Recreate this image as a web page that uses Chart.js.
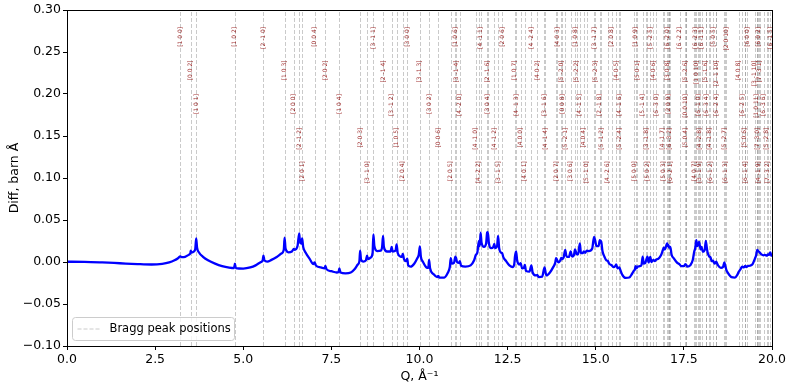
<!DOCTYPE html>
<html><head><meta charset="utf-8">
<script src="https://cdn.jsdelivr.net/npm/chart.js@4/dist/chart.umd.min.js"></script>
<style>html,body{margin:0;padding:0;background:#fff;}#wrap{width:793px;height:387px;}</style>
</head><body><div id="wrap"><canvas id="c" width="793" height="387"></canvas></div>
<script>
// Measured difference curve (Q in 1/Å, Diff in barn·Å)
const curveQ = [0,0.5,1.0,1.5,2.0,2.4,2.7,2.9,3.05,3.15,3.217,3.25,3.35,3.45,3.50,3.512,3.53,3.60,3.64,3.665,3.69,3.75,3.85,4.0,4.2,4.4,4.6,4.74,4.763,4.79,5.0,5.2,5.35,5.48,5.55,5.573,5.60,5.68,5.8,5.95,6.08,6.15,6.173,6.20,6.28,6.38,6.435,6.46,6.54,6.587,6.61,6.645,6.670,6.70,6.78,6.88,6.99,7.024,7.06,7.2,7.31,7.331,7.36,7.5,7.65,7.705,7.726,7.76,7.9,8.05,8.15,8.25,8.295,8.316,8.34,8.40,8.48,8.5125,8.54,8.62,8.67,8.692,8.72,8.80,8.90,8.94,8.966,8.99,9.08,9.18,9.209,9.24,9.32,9.351,9.38,9.46,9.50,9.526,9.56,9.62,9.652,9.68,9.75,9.85,9.93,9.98,10.011,10.04,10.1,10.2,10.25,10.271,10.30,10.4,10.50,10.536,10.56,10.7,10.80,10.86,10.886,10.92,10.98,11.017,11.036,11.07,11.12,11.145,11.18,11.3,11.45,11.55,11.60,11.64,11.686,11.71,11.733,11.76,11.83,11.89,11.919,11.938,11.97,12.03,12.09,12.121,12.15,12.2,12.229,12.26,12.32,12.346,12.38,12.45,12.55,12.65,12.69,12.707,12.741,12.77,12.83,12.87,12.91,12.96,12.989,13.02,13.12,13.174,13.21,13.30,13.34,13.38,13.48,13.546,13.5615,13.60,13.7,13.8,13.85,13.875,13.906,13.94,13.99,14.024,14.049,14.09,14.134,14.17,14.24,14.289,14.33,14.38,14.412,14.4575,14.5,14.549,14.58,14.63,14.662,14.70,14.744,14.8,14.9,14.952,14.981,15.02,15.08,15.114,15.157,15.19,15.25,15.30,15.338,15.38,15.452,15.50,15.55,15.58,15.62,15.671,15.685,15.75,15.85,15.95,16.03,16.087,16.11,16.129,16.16,16.183,16.25,16.30,16.332,16.36,16.40,16.426,16.466,16.50,16.546,16.58,16.633,16.68,16.718,16.78,16.85,16.902,16.928,16.96,17.025,17.045,17.064,17.083,17.115,17.15,17.22,17.30,17.383,17.42,17.50,17.541,17.55,17.556,17.6,17.68,17.75,17.797,17.821,17.853,17.88,17.914,17.933,17.951,17.98,18.0,18.04,18.09,18.122,18.134,18.17,18.219,18.255,18.29,18.327,18.37,18.417,18.424,18.47,18.55,18.61,18.649,18.672,18.702,18.75,18.85,18.95,19.02,19.052,19.1,19.156,19.2,19.23,19.242,19.27,19.304,19.36,19.45,19.515,19.55,19.571,19.583,19.605,19.621,19.649,19.7,19.761,19.8,19.851,19.884,19.92,19.95,19.98,20.0];
const curveDiff = [0.0003,0.0002,-0.0005,-0.0015,-0.0025,-0.003,-0.0022,-0.0005,0.002,0.0045,0.0068,0.0058,0.0062,0.0085,0.0105,0.0135,0.0112,0.0125,0.016,0.028,0.017,0.011,0.0065,0.002,-0.002,-0.005,-0.0068,-0.0074,-0.002,-0.0072,-0.0078,-0.0065,-0.004,-0.0005,0.002,0.0075,0.002,0.0005,0.0025,0.006,0.01,0.0145,0.029,0.016,0.0115,0.0125,0.0155,0.0145,0.019,0.034,0.024,0.022,0.028,0.018,0.0105,0.004,-0.0025,-0.0005,-0.004,-0.0065,-0.0075,-0.0045,-0.0085,-0.011,-0.0125,-0.012,-0.0075,-0.0125,-0.0135,-0.0125,-0.009,-0.003,0.001,0.0135,0.003,0.0005,0.002,0.0075,0.0035,0.0055,0.011,0.033,0.019,0.013,0.0135,0.018,0.031,0.018,0.0125,0.0125,0.018,0.0125,0.0135,0.021,0.011,0.0065,0.006,0.0095,0.0035,0.001,0.004,-0.004,-0.0055,-0.002,0.004,0.009,0.0185,0.006,0.0,-0.0065,-0.007,0.0025,-0.0075,-0.0145,-0.018,-0.0165,-0.0187,-0.0185,-0.013,-0.006,0.0045,-0.002,-0.001,0.0065,0.005,-0.0005,-0.001,0.001,-0.0045,-0.0055,-0.004,0.002,0.0085,0.011,0.025,0.019,0.035,0.023,0.018,0.022,0.035,0.0355,0.022,0.0165,0.0175,0.0215,0.0165,0.0185,0.031,0.0165,0.011,0.0105,0.0055,0.0015,-0.004,-0.006,-0.002,0.006,0.0125,0.002,-0.003,-0.0015,-0.0075,-0.007,-0.0035,-0.0105,-0.0115,-0.004,-0.0125,-0.016,-0.0155,-0.018,-0.0175,-0.0065,-0.009,-0.016,-0.0125,-0.0055,-0.001,0.0045,0.002,-0.0005,0.0015,0.005,0.0035,0.0055,0.0145,0.0065,0.006,0.0125,0.0065,0.008,0.015,0.0095,0.009,0.022,0.0105,0.0105,0.0125,0.011,0.0135,0.013,0.016,0.030,0.026,0.019,0.019,0.026,0.024,0.013,0.006,0.002,0.0015,-0.002,-0.004,-0.006,-0.005,-0.003,-0.0075,-0.0065,-0.008,-0.015,-0.019,-0.0185,-0.014,-0.01,-0.009,-0.005,-0.0075,-0.0055,-0.005,-0.003,0.0065,-0.002,-0.0015,0.0015,0.0065,-0.0005,0.006,0.0,0.0025,0.001,0.003,0.004,0.008,0.014,0.017,0.015,0.022,0.019,0.02,0.017,0.018,0.009,0.004,-0.0005,-0.003,-0.005,-0.005,-0.0025,-0.003,-0.003,-0.0055,-0.004,0.002,0.013,0.016,0.026,0.019,0.021,0.024,0.02,0.015,0.018,0.012,0.014,0.025,0.022,0.012,0.0065,0.0055,0.001,0.0015,-0.002,0.0005,0.0,-0.004,-0.007,-0.006,-0.0005,-0.004,-0.009,-0.013,-0.018,-0.0185,-0.015,-0.012,-0.009,-0.0055,-0.0065,-0.005,-0.0045,-0.006,-0.005,-0.0045,-0.0025,0.004,0.008,0.013,0.0145,0.013,0.0125,0.0115,0.009,0.008,0.0085,0.0075,0.009,0.0085,0.0115,0.008,0.0065];

// Bragg peak positions and their Miller indices
const braggQ = [3.217,3.512,3.665,4.763,5.573,6.173,6.435,6.587,6.670,7.024,7.331,7.726,8.316,8.513,8.692,8.966,9.209,9.351,9.526,9.652,10.011,10.271,10.536,10.886,11.017,11.036,11.145,11.601,11.686,11.733,11.919,11.938,12.121,12.229,12.346,12.707,12.741,12.870,12.989,13.174,13.340,13.546,13.562,13.875,13.906,14.024,14.049,14.134,14.289,14.412,14.458,14.549,14.662,14.744,14.952,14.981,15.114,15.157,15.338,15.452,15.580,15.671,15.685,16.087,16.129,16.183,16.332,16.426,16.466,16.546,16.633,16.718,16.902,16.928,17.025,17.045,17.064,17.083,17.115,17.383,17.541,17.550,17.556,17.797,17.821,17.853,17.914,17.933,17.951,18.000,18.122,18.134,18.219,18.255,18.327,18.420,18.424,18.649,18.672,18.702,19.052,19.156,19.230,19.242,19.304,19.515,19.570,19.578,19.605,19.621,19.649,19.761,19.851,19.884,19.950];
const braggLabels = ["[1 0 0]","[0 0 2]","[1 0 1]","[1 0 2]","[2 -1 0]","[1 0 3]","[2 0 0]","[2 -1 2]","[2 0 1]","[0 0 4]","[2 0 2]","[1 0 4]","[2 0 3]","[3 -1 0]","[3 -1 1]","[2 -1 4]","[3 -1 2]","[1 0 5]","[2 0 4]","[3 0 0]","[3 -1 3]","[3 0 2]","[0 0 6]","[2 0 5]","[1 0 6]","[3 -1 4]","[4 -2 0]","[4 -1 0]","[4 -2 2]","[4 -1 1]","[2 -1 6]","[3 0 4]","[4 -1 2]","[3 -1 5]","[2 0 6]","[1 0 7]","[4 -1 3]","[4 0 0]","[4 0 1]","[4 -2 4]","[4 0 2]","[3 -1 6]","[4 -1 4]","[2 0 7]","[4 0 3]","[5 -2 0]","[0 0 8]","[5 -2 1]","[3 0 6]","[1 0 8]","[5 -2 2]","[4 -1 5]","[4 0 4]","[5 -1 0]","[3 -1 7]","[5 -2 3]","[2 -1 8]","[5 -1 2]","[4 -2 6]","[2 0 8]","[4 0 5]","[4 -1 6]","[5 -2 4]","[5 0 0]","[1 0 9]","[5 0 1]","[5 -1 4]","[3 -1 8]","[5 0 2]","[5 -2 5]","[4 0 6]","[6 -3 0]","[4 -1 7]","[5 0 3]","[6 -2 0]","[3 0 8]","[2 0 9]","[6 -3 2]","[6 -2 1]","[6 -2 2]","[5 -2 6]","[0 0 10]","[5 0 4]","[4 0 7]","[6 -2 3]","[1 0 10]","[6 -1 0]","[4 -2 8]","[3 -1 9]","[6 -1 1]","[5 -1 6]","[6 -3 4]","[4 -1 8]","[6 -1 2]","[5 0 5]","[2 -1 10]","[6 -2 4]","[5 -2 7]","[6 -1 3]","[2 0 10]","[4 0 8]","[6 -2 5]","[5 0 6]","[6 -1 4]","[6 0 0]","[3 -1 10]","[1 0 11]","[7 -3 0]","[4 -1 9]","[6 0 2]","[7 -3 1]","[6 -3 6]","[5 -2 8]","[7 -3 2]","[6 -1 5]"];

const xTickValues = [0,2.5,5,7.5,10,12.5,15,17.5,20];
const yTickValues = [-0.10,-0.05,0.00,0.05,0.10,0.15,0.20,0.25,0.30];

const FONT = "'DejaVu Sans', sans-serif";

// label stacking levels: new group after a gap, otherwise cycle through 5 rows
const braggLevel = [];
(function(){ let lvl = -1, prev = -Infinity;
  braggQ.forEach(q => { lvl = (q - prev > 0.7) ? 0 : (lvl + 1) % 5; braggLevel.push(lvl); prev = q; });
})();

const braggPlugin = {
  id: 'bragg',
  beforeDatasetsDraw(chart) {
    const {ctx, chartArea: a, scales: {x}} = chart;
    ctx.save();
    ctx.beginPath(); ctx.rect(a.left, a.top, a.right - a.left, a.bottom - a.top); ctx.clip();
    ctx.strokeStyle = 'rgba(128,128,128,0.42)';
    ctx.lineWidth = 1;
    ctx.setLineDash([4, 2]);
    braggQ.forEach(q => {
      const px = Math.round(x.getPixelForValue(q)) + 0.5;
      ctx.beginPath(); ctx.moveTo(px, a.bottom); ctx.lineTo(px, a.top); ctx.stroke();
    });
    ctx.restore();
  },
  afterDatasetsDraw(chart) {
    const {ctx, scales: {x, y}} = chart;
    ctx.save();
    ctx.fillStyle = 'rgba(139,0,0,0.85)';
    ctx.font = "6px " + FONT;
    ctx.textAlign = 'right';
    ctx.textBaseline = 'middle';
    braggQ.forEach((q, i) => {
      const px = x.getPixelForValue(q);
      const py = y.getPixelForValue(0.28 - 0.04 * braggLevel[i]);
      ctx.save(); ctx.translate(px, py); ctx.rotate(-Math.PI / 2);
      ctx.fillText(braggLabels[i], 0, 0);
      ctx.restore();
    });
    ctx.restore();
  },
  afterDraw(chart) {
    const {ctx, chartArea: a} = chart;
    ctx.save();
    ctx.strokeStyle = '#000'; ctx.lineWidth = 1;
    ctx.strokeRect(Math.round(a.left) + 0.5, Math.round(a.top) + 0.5, Math.round(a.right - a.left), Math.round(a.bottom - a.top));
    // legend
    const bx = a.left + 5.5, by = a.bottom - 28.5, bw = 162, bh = 23;
    ctx.fillStyle = 'rgba(255,255,255,0.8)';
    ctx.strokeStyle = '#cccccc';
    ctx.beginPath(); ctx.roundRect(bx, by, bw, bh, 3); ctx.fill(); ctx.stroke();
    ctx.strokeStyle = 'rgba(128,128,128,0.42)';
    ctx.setLineDash([4, 2]);
    ctx.beginPath(); ctx.moveTo(bx + 5, by + bh / 2); ctx.lineTo(bx + 28, by + bh / 2); ctx.stroke();
    ctx.setLineDash([]);
    ctx.fillStyle = '#000';
    ctx.font = "11.5px " + FONT;
    ctx.textAlign = 'left'; ctx.textBaseline = 'middle';
    ctx.fillText('Bragg peak positions', bx + 37, by + bh / 2 + 0.5);
    ctx.restore();
  }
};

const points = curveQ.map((q, i) => ({x: q, y: curveDiff[i]}));

new Chart(document.getElementById('c'), {
  type: 'line',
  data: { datasets: [{
    data: points, borderColor: '#0000ff', borderWidth: 2.3, pointRadius: 0,
    fill: false, cubicInterpolationMode: 'monotone', borderJoinStyle: 'round'
  }]},
  options: {
    responsive: false, animation: false, devicePixelRatio: 1,
    layout: { padding: {left: 0, right: 21, top: 10, bottom: 0} },
    plugins: { legend: {display: false}, tooltip: {enabled: false} },
    scales: {
      x: {
        type: 'linear', min: 0, max: 20,
        afterBuildTicks: s => { s.ticks = xTickValues.map(v => ({value: v})); },
        afterFit: s => { s.height = 41; },
        ticks: { callback: v => Number(v).toFixed(1), font: {family: FONT, size: 12.5}, color: '#000', padding: 2, maxRotation: 0, autoSkip: false },
        grid: { drawOnChartArea: false, tickLength: 4, color: '#000', tickColor: '#000' },
        border: { color: '#000', width: 1 },
        title: { display: true, text: 'Q, Å⁻¹', font: {family: FONT, size: 12.5}, color: '#000', padding: {top: 0, bottom: 3} }
      },
      y: {
        min: -0.10, max: 0.30,
        afterBuildTicks: s => { s.ticks = yTickValues.map(v => ({value: v})); },
        afterFit: s => { s.width = 67; },
        ticks: { callback: v => (Math.abs(v) < 1e-9 ? '0.00' : (v < 0 ? '\u2212' : '') + Math.abs(v).toFixed(2)), font: {family: FONT, size: 12.5}, color: '#000', padding: 2, autoSkip: false },
        grid: { drawOnChartArea: false, tickLength: 4, color: '#000', tickColor: '#000' },
        border: { color: '#000', width: 1 },
        title: { display: true, text: 'Diff, barn Å', font: {family: FONT, size: 12.5}, color: '#000', padding: {top: 7.5, bottom: 0} }
      }
    }
  },
  plugins: [braggPlugin]
});
</script>
</body></html>
